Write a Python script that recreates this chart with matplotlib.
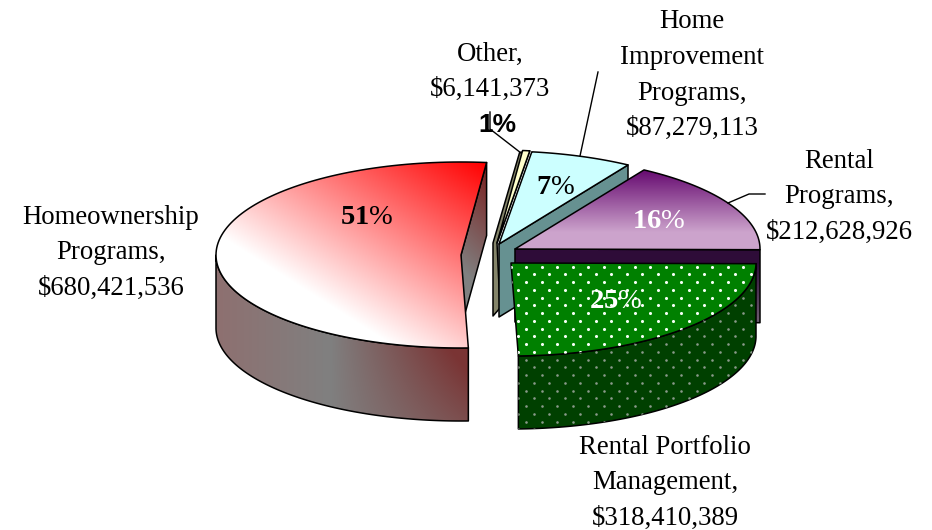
import numpy as np
import matplotlib
matplotlib.use("Agg")
import matplotlib.pyplot as plt
from matplotlib.patches import Polygon
from matplotlib.colors import to_rgb

plt.rcParams["mathtext.fontset"] = "custom"
plt.rcParams["mathtext.rm"] = "Liberation Serif"
plt.rcParams["mathtext.bf"] = "Liberation Serif:bold"

categories = ["Other", "Home Improvement Programs", "Rental Programs",
              "Rental Portfolio Management", "Homeownership Programs"]
values = [6141373, 87279113, 212628926, 318410389, 680421536]
pct_labels = ["1%", "7%", "16%", "25%", "51%"]
label_lines = [["Other,", "$6,141,373"],
               ["Home", "Improvement", "Programs,", "$87,279,113"],
               ["Rental", "Programs,", "$212,628,926"],
               ["Rental Portfolio", "Management,", "$318,410,389"],
               ["Homeownership", "Programs,", "$680,421,536"]]

W, H = 932, 530
RX, RY, DROP = 245, 93, 73
START = 84.0
APEX = [(497, 243), (499, 244), (515, 249), (511, 263), (461, 255)]
LABEL_POS = [(490, 54), (692, 22), (839, 161), (665, 447), (111, 217)]
PCT_POS = [(497, 125), (556, 186), (659, 220), (616, 300), (367, 216)]
PCT_COL = ["black", "black", "white", "white", "black"]
STEP = 35.5
SERIF = "Liberation Serif"

fig = plt.figure(figsize=(W / 100, H / 100), dpi=100)
ax = fig.add_axes([0, 0, 1, 1])
ax.set_axis_off()

fr = np.array(values, float) / sum(values)
edges = START - np.concatenate([[0], np.cumsum(fr) * 360])


def arc(c, a0, a1, n=120):
    t = np.radians(np.linspace(a0, a1, n))
    return np.column_stack([c[0] + RX * np.cos(t), c[1] - RY * np.sin(t)])


def shape(pts, face="none", z=1, lw=1.1):
    p = Polygon(pts, closed=True, facecolor=face, edgecolor="black",
                linewidth=lw, joinstyle="round", zorder=z)
    ax.add_patch(p)
    return p


def gradient(pts, func, z):
    """Fill a polygon with an RGB field func(x, y)."""
    pts = np.asarray(pts, float)
    x0, y0 = np.floor(pts.min(0)) - 1
    x1, y1 = np.ceil(pts.max(0)) + 1
    xx, yy = np.meshgrid(np.arange(x0, x1, 1.0) + .5, np.arange(y0, y1, 1.0) + .5)
    im = ax.imshow(np.clip(func(xx, yy), 0, 1), extent=(x0, x1, y1, y0),
                   zorder=z, interpolation="bilinear", aspect="auto")
    border = shape(pts, "none", z + 0.01)
    im.set_clip_path(Polygon(pts, closed=True, transform=ax.transData))
    return border


def mix(c0, c1, s):
    c0, c1 = np.array(to_rgb(c0)), np.array(to_rgb(c1))
    return c0 + (c1 - c0) * np.clip(s, 0, 1)[..., None]


def dots(pts, color, z, size):
    pts = np.asarray(pts, float)
    xs, ys = [], []
    for r, y in enumerate(np.arange(266.5, 440, 7.75)):
        off = 0 if r % 2 == 0 else 7.75
        for x in np.arange(526 + off - 15.5, 770, 15.5):
            xs.append(x)
            ys.append(y)
    s = ax.scatter(xs, ys, s=size, c=color, linewidths=0, zorder=z)
    s.set_clip_path(Polygon(pts, closed=True, transform=ax.transData))


def radial_wall(c, a):
    o = arc(c, a, a, 1)[0]
    return [c, o, o + (0, DROP), (c[0], c[1] + DROP)]


def top(c, a0, a1):
    return np.vstack([[c], arc(c, a0, a1)])


def rim(c, a0, a1):
    a = arc(c, a0, a1)
    return np.vstack([a, a[::-1] + (0, DROP)])


# --- Other ---
c = APEX[0]
a0, a1 = edges[0], edges[1]
oe = arc(c, a0, a0, 1)[0]
ie = arc(c, a1, a1, 1)[0]
shape([oe + (-3, 2), ie, c, (c[0] + 3, c[1] + DROP - 8), (c[0] - 4, c[1] + DROP), (c[0] - 4, c[1])], "#85856a", 2)
shape(top(c, a0, a1), "#FFFFCC", 2.1)

# --- Home improvement ---
c = APEX[1]
a0, a1 = edges[1], edges[2]
shape(radial_wall(c, a1), "#669191", 3)
shape(top(c, a0, a1), "#CCFFFF", 3.1)

# --- Rental programs ---
c = APEX[2]
a0, a1 = edges[2], edges[3]
gradient(radial_wall(c, a1),
         lambda x, y: mix("#2E0C38", "#6A5A6E", (y - c[1] - 14) / DROP * 1.3), 4)
gradient(top(c, a0, a1),
         lambda x, y: mix("#660A70", "#CCA3CC", (y - 170) / 62), 4.1)

# --- Rental portfolio ---
c = APEX[3]
a0, a1 = edges[3], edges[4]
w = rim(c, a0, a1)
shape(w, "#004000", 5.1)
dots(w, "#8a9a8a", 5.2, 3.5)
t = top(c, a0, a1)
shape(t, "#008000", 5.3)
dots(t, "#f4fff4", 5.4, 5)

# --- Homeownership: clockwise from the bottom, past the far left, to the top ---
c = APEX[4]
a0, a1 = edges[4], edges[5]
wall = radial_wall(c, a1)
gradient(wall, lambda x, y: mix("#7A1E1E", "#808080", ((486 - x) + (y - 163)) / 130), 6)
w = rim(c, a0, -180)
gradient(w, lambda x, y: np.where(
    (x < 330)[..., None],
    mix("#8E7070", "#808080", (x - 216) / 114),
    mix("#808080", "#7A3434", (x - 330) / 140 * (1.15 - (y - 350) / 150))), 6.1)
gradient(top(c, a0, a1),
         lambda x, y: mix("#FF0000", "#FFFFFF", 0.00263 * (486 - x) + 0.00415 * (y - 163)), 6.2)

# --- leader lines ---
for xs, ys in [([490, 490, 521], [112, 129, 153]),
               ([598, 580], [72, 156]),
               ([765, 749, 728], [194, 194, 203])]:
    ax.plot(xs, ys, color="black", lw=1.0, zorder=7, solid_joinstyle="miter")

# --- text ---
for lines, (x, y) in zip(label_lines, LABEL_POS):
    for i, line in enumerate(lines):
        ax.text(x, y + i * STEP, line.replace("$", r"\$"), family=SERIF, fontsize=19.3,
                ha="center", va="center", color="black", zorder=8)

for i, (txt, (x, y), col) in enumerate(zip(pct_labels, PCT_POS, PCT_COL)):
    if i == 0:
        ax.text(x, y, txt, family="Liberation Sans", fontweight="bold", fontsize=19,
                ha="center", va="center", color=col, zorder=8)
    else:
        num = txt.rstrip("%")
        ax.text(x, y, r"$\mathbf{%s}\mathrm{\%%}$" % num, fontsize=20.5,
                ha="center", va="center", color=col, zorder=8)

ax.set_xlim(0, W)
ax.set_ylim(H, 0)
fig.savefig("out.png", dpi=100, facecolor="white")
